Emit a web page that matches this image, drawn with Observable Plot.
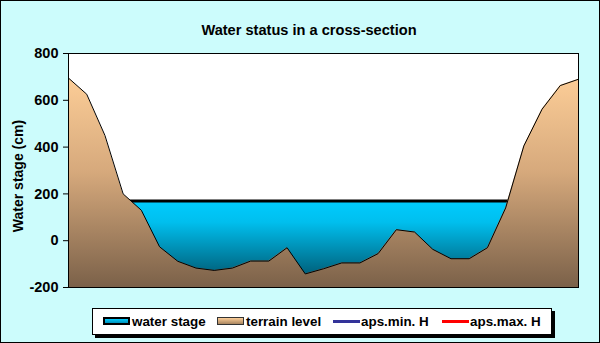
<!DOCTYPE html>
<html>
<head>
<meta charset="utf-8">
<script src="https://cdn.jsdelivr.net/npm/d3@7"></script>
<script src="https://cdn.jsdelivr.net/npm/@observablehq/plot@0.6"></script>
<style>
  body { margin: 0; }
  #wrap { position: relative; width: 600px; height: 343px; background: #ccfcfc; overflow: hidden;
          font-family: "Liberation Sans", Arial, sans-serif; }
  #chart { position: absolute; left: 0; top: 0; }
  #title { position: absolute; left: 109px; top: 21px; width: 400px; text-align: center;
           font-weight: bold; font-size: 14.6px; line-height: 18px; color: #000; }
  #ylabel { position: absolute; left: 18px; top: 176px; transform: translate(-50%, -50%) rotate(-90deg);
            font-weight: bold; font-size: 14px; line-height: 16px; white-space: nowrap; color: #000; }
  #legend { position: absolute; left: 92px; top: 308px; width: 458px; height: 25px; background: #fff;
            border: 1px solid #000; box-shadow: 3px 3px 0 #000; }
  .item { position: absolute; top: 0; height: 25px; line-height: 25px; font-weight: bold; font-size: 13.4px; color: #000; white-space: nowrap; }
  .sw { position: absolute; }
  #border { position: absolute; left: 0; top: 0; width: 598px; height: 341px; border: 1px solid #000; pointer-events: none; }
</style>
</head>
<body>
<div id="wrap">
  <div id="chart"></div>
  <div id="title"></div>
  <div id="ylabel"></div>
  <div id="legend"></div>
  <div id="border"></div>
</div>
<script>
// ---- data ----
const stations = [0,1,2,3,4,5,6,7,8,9,10,11,12,13,14,15,16,17,18,19,20,21,22,23,24,25,26,27,28];
const terrainLevel = [695,626,450,200,130,-26,-88,-117,-127,-117,-87,-87,-30,-142,-120,-95,-95,-55,47,37,-37,-77,-77,-30,140,405,562,663,690];
const waterStage = [170,170,170,170,170,170,170,170,170,170,170,170,170,170,170,170,170,170,170,170,170,170,170,170,170,170,170,170,170];
const yTicks = [-200,0,200,400,600,800];
const yDomain = [-200, 800];
const titleText = "Water status in a cross-section";
const yLabel = "Water stage (cm)";
const legendNames = ["water stage", "terrain level", "aps.min. H", "aps.max. H"];

const rows = stations.map((s, i) => ({s, terrain: terrainLevel[i], water: waterStage[i]}));

function gradients() {
  const g = d3.create("svg:g");
  const defs = g.append("defs");
  const t = defs.append("linearGradient").attr("id", "terrainGrad").attr("x1", 0).attr("y1", 0).attr("x2", 0).attr("y2", 1);
  t.append("stop").attr("offset", "0%").attr("stop-color", "#fccd97");
  t.append("stop").attr("offset", "45%").attr("stop-color", "#d6a97c");
  t.append("stop").attr("offset", "100%").attr("stop-color", "#7b6149");
  const w = defs.append("linearGradient").attr("id", "waterGrad").attr("x1", 0).attr("y1", 0).attr("x2", 0).attr("y2", 1);
  w.append("stop").attr("offset", "0%").attr("stop-color", "#00ccff");
  w.append("stop").attr("offset", "25%").attr("stop-color", "#00bfee");
  w.append("stop").attr("offset", "100%").attr("stop-color", "#004a60");
  return g.node();
}

const chart = Plot.plot({
  width: 600,
  height: 343,
  marginLeft: 68,
  marginRight: 22,
  marginTop: 53,
  marginBottom: 56,
  style: {background: "transparent", fontFamily: "'Liberation Sans', Arial, sans-serif", color: "#000"},
  x: {domain: [stations[0], stations[stations.length - 1]], axis: null},
  y: {domain: yDomain, axis: null},
  marks: [
    gradients,
    Plot.frame({fill: "#fff"}),
    Plot.areaY(rows, {x: "s", y1: () => yDomain[0], y2: "water", fill: "url(#waterGrad)", clip: true}),
    Plot.lineY(rows, {x: "s", y: "water", stroke: "#000", strokeWidth: 3, strokeLinecap: "butt", clip: true}),
    Plot.areaY(rows, {x: "s", y1: () => yDomain[0], y2: "terrain", fill: "url(#terrainGrad)", clip: true}),
    Plot.lineY(rows, {x: "s", y: "terrain", stroke: "#000", strokeWidth: 1, clip: true}),
    Plot.frame({stroke: "#000", strokeWidth: 1}),
    Plot.axisY({ticks: yTicks, tickSize: 5, tickPadding: 5, label: null, tickFormat: d => String(d),
                fontSize: 14.5, fontWeight: "bold", stroke: "#000"})
  ]
});
document.getElementById("chart").append(chart);
document.getElementById("title").textContent = titleText;
document.getElementById("ylabel").textContent = yLabel;

// legend
const legend = document.getElementById("legend");
const swatchX = [10, 124, 240, 349];
const textX = [39, 153, 268, 377];
const swatchStyles = [
  "top:8px;height:4px;width:23px;border:2px solid #000;background:linear-gradient(#00ccff,#0090b8);",
  "top:8px;height:6px;width:25px;border:1px solid #333;background:linear-gradient(#fccd97,#a88560);",
  "top:11px;height:3px;width:27px;background:#333399;",
  "top:11px;height:3px;width:27px;background:#ff0000;"
];
legendNames.forEach((name, i) => {
  const sw = document.createElement("div");
  sw.className = "sw";
  sw.style.cssText = `left:${swatchX[i]}px;` + swatchStyles[i];
  legend.append(sw);
  const t = document.createElement("div");
  t.className = "item";
  t.style.left = textX[i] + "px";
  t.textContent = name;
  legend.append(t);
});
</script>
</body>
</html>
